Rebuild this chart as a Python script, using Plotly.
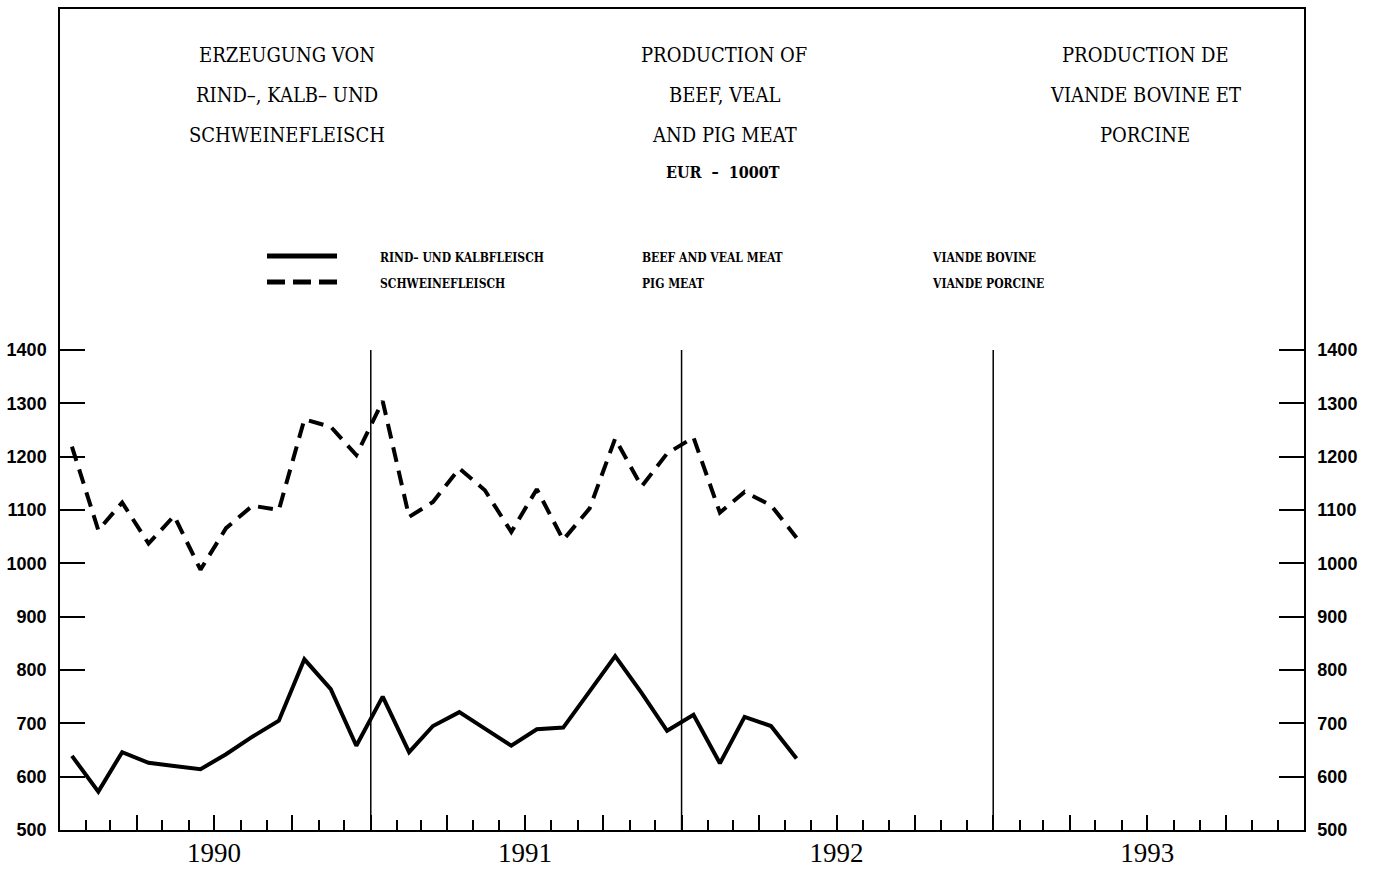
import pandas as pd
import plotly.graph_objects as go

# monthly production, EUR - 1000 t
months = pd.date_range("1990-01-01", periods=29, freq="MS") + pd.Timedelta(days=14)
beef_veal = [639, 572, 646, 626, 620, 614, 642, 675, 705, 820, 764, 658,
             750, 646, 695, 721, 690, 658, 689, 692, 760, 826, 757, 686,
             716, 625, 712, 695, 634]
pig_meat = [1219, 1062, 1114, 1037, 1089, 988, 1066, 1108, 1100, 1270, 1256, 1203,
            1304, 1087, 1115, 1178, 1137, 1059, 1139, 1044, 1103, 1234, 1144, 1206,
            1236, 1095, 1134, 1109, 1048]

years = ["1990", "1991", "1992", "1993"]
y_ticks = list(range(500, 1401, 100))

title_de = ["ERZEUGUNG VON", "RIND–, KALB– UND", "SCHWEINEFLEISCH"]
title_en = ["PRODUCTION OF", "BEEF, VEAL", "AND PIG MEAT"]
title_fr = ["PRODUCTION DE", "VIANDE BOVINE ET", "PORCINE"]
unit = "EUR  –  1000T"
legend_de = ["RIND– UND KALBFLEISCH", "SCHWEINEFLEISCH"]
legend_en = ["BEEF AND VEAL MEAT", "PIG MEAT"]
legend_fr = ["VIANDE BOVINE", "VIANDE PORCINE"]

W, H = 1373, 870
L, R, T, B = 60, 69, 9, 40
PW, PH = W - L - R, H - T - B
Y_TOP = 500 + PH * 900 / 480  # so that 1400 sits at the right height


def px_x(px):
    return (px - L) / PW


def px_y(py):
    return (H - B - py) / PH


serif = "Liberation Serif"
cond = "DejaVu Serif Condensed, DejaVu Serif, serif"

fig = go.Figure()
fig.add_trace(go.Scatter(x=months, y=beef_veal, mode="lines",
                         line=dict(color="black", width=4)))
# pig meat on the right-hand (identical) axis so that axis gets drawn
fig.add_trace(go.Scatter(x=months, y=pig_meat, mode="lines", yaxis="y2",
                         line=dict(color="black", width=4, dash="15px,9px")))

# year separators
for yr in years[1:]:
    fig.add_shape(type="line", xref="x", yref="y", x0=f"{yr}-01-01", x1=f"{yr}-01-01",
                  y0=500, y1=1400, line=dict(color="black", width=1.5))

# titles
for lines, cx in [(title_de, 287), (title_en, 724), (title_fr, 1145)]:
    for i, txt in enumerate(lines):
        fig.add_annotation(x=px_x(cx), y=px_y(55 + 40 * i), xref="paper", yref="paper",
                           text=txt, showarrow=False, xanchor="center", yanchor="middle",
                           font=dict(family=cond, size=20, color="black"))
fig.add_annotation(x=px_x(723), y=px_y(173), xref="paper", yref="paper", text=unit,
                   showarrow=False, xanchor="center", yanchor="middle",
                   font=dict(family=cond, size=16, color="black", weight="bold"))

# legend, drawn by hand (three languages per row)
for i, dash in enumerate(["solid", "18px,8px"]):
    yy = 256 + 26 * i
    fig.add_shape(type="line", xref="paper", yref="paper", x0=px_x(267), x1=px_x(337),
                  y0=px_y(yy), y1=px_y(yy), line=dict(color="black", width=5, dash=dash))
    for col, cx in [(legend_de, 378), (legend_en, 640), (legend_fr, 930)]:
        fig.add_annotation(x=px_x(cx), y=px_y(yy + 2), xref="paper", yref="paper",
                           text=col[i], showarrow=False, xanchor="left", yanchor="middle",
                           font=dict(family=cond, size=12, color="black", weight="bold"))

quarters = pd.date_range("1990-04-01", "1993-10-01", freq="QS")
q_text = [str(d.year) if d.month == 7 else "" for d in quarters]

yfont = dict(family="Liberation Sans", size=18, color="black", weight="bold")

fig.update_layout(
    width=W, height=H,
    margin=dict(l=L, r=R, t=T, b=B),
    paper_bgcolor="white", plot_bgcolor="white",
    showlegend=False,
    xaxis=dict(
        range=["1990-01-01", "1994-01-01"], showgrid=False, zeroline=False,
        showline=True, mirror=True, linecolor="black", linewidth=1.5,
        tickvals=quarters, ticktext=q_text, ticks="inside", ticklen=15,
        tickwidth=1.5, tickcolor="black", ticklabelstandoff=-2, automargin=False,
        tickfont=dict(family=serif, size=27, color="black"),
        minor=dict(dtick="M1", tick0="1990-01-01", ticks="inside", ticklen=10,
                   tickwidth=1.5, tickcolor="black", showgrid=False),
    ),
    yaxis=dict(
        range=[500, Y_TOP], showgrid=False, zeroline=False, automargin=False,
        showline=True, linecolor="black", linewidth=1.5,
        tickvals=y_ticks, ticks="inside", ticklen=25, tickwidth=2, tickcolor="black",
        ticklabelstandoff=8, tickfont=yfont,
    ),
    yaxis2=dict(
        overlaying="y", side="right", anchor="x", automargin=False,
        range=[500, Y_TOP], showgrid=False, zeroline=False,
        showline=True, linecolor="black", linewidth=1.5,
        tickvals=y_ticks, ticks="inside", ticklen=25, tickwidth=2, tickcolor="black",
        ticklabelstandoff=8, tickfont=yfont,
    ),
)

fig.write_html("out.html", config={"displayModeBar": False},
               post_script="document.body.style.margin='0';")
